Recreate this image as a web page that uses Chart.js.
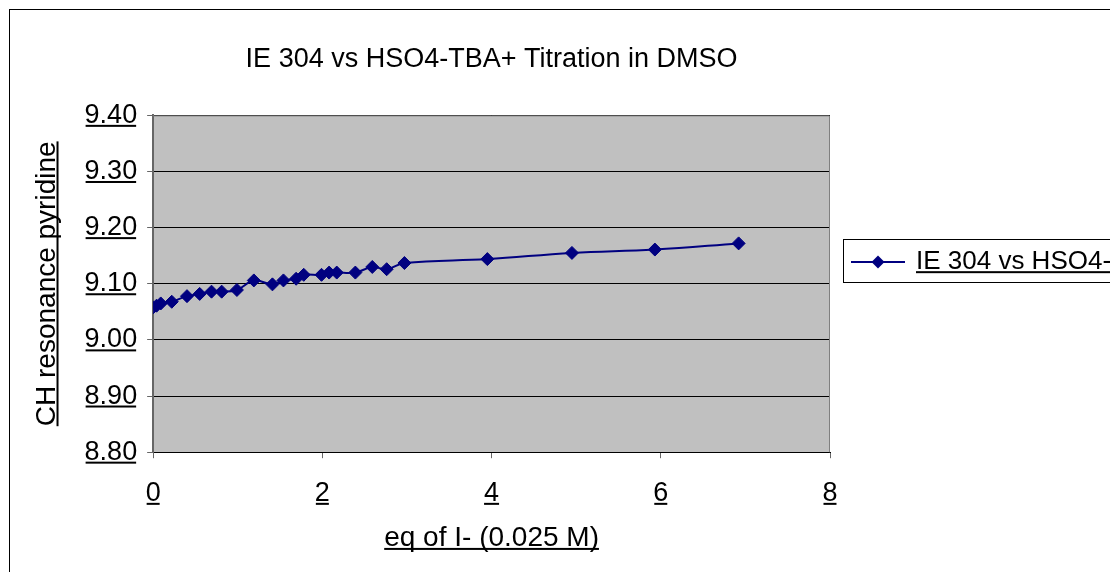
<!DOCTYPE html>
<html>
<head>
<meta charset="utf-8">
<script src="https://cdn.jsdelivr.net/npm/chart.js@4/dist/chart.umd.min.js"></script>
<style>
  html, body { margin: 0; padding: 0; background: #fff; overflow: hidden; width: 1110px; height: 572px; }
  #frame { position: absolute; left: 9px; top: 9px; border: 1px solid #000; width: 1120px; height: 580px; }
  canvas { display: block; }
</style>
</head>
<body>
<div id="frame"><canvas id="chart" width="1120" height="580"></canvas></div>
<script>
// Titration: chemical shift of the pyridine CH resonance vs equivalents added
const chartTitle = 'IE 304 vs HSO4-TBA+ Titration in DMSO';
const seriesName = 'IE 304 vs HSO4-TBA+';
const xAxisTitle = 'eq of I- (0.025 M)';
const yAxisTitle = 'CH resonance pyridine';

const equivalents = [0.00, 0.04, 0.09, 0.22, 0.40, 0.55, 0.69, 0.81, 0.99, 1.19,
                     1.41, 1.54, 1.69, 1.78, 1.99, 2.08, 2.17, 2.39, 2.59, 2.76,
                     2.97, 3.95, 4.95, 5.93, 6.92];
const shiftPpm    = [9.058, 9.061, 9.065, 9.068, 9.078, 9.082, 9.086, 9.086, 9.089, 9.106,
                     9.099, 9.106, 9.109, 9.116, 9.116, 9.120, 9.120, 9.120, 9.130, 9.126,
                     9.137, 9.144, 9.155, 9.161, 9.172];

const xTicks = [0, 2, 4, 6, 8];
const yTicks = [8.80, 8.90, 9.00, 9.10, 9.20, 9.30, 9.40];

const NAVY = '#000080';
const FONT = "'Liberation Sans', Arial, sans-serif";
Chart.defaults.font.family = FONT;
Chart.defaults.color = '#000';

// legend glyph: line with a diamond in the middle
const legendGlyph = document.createElement('canvas');
legendGlyph.width = 54; legendGlyph.height = 16;
(function () {
  const g = legendGlyph.getContext('2d');
  g.strokeStyle = NAVY; g.lineWidth = 2;
  g.beginPath(); g.moveTo(0, 8); g.lineTo(54, 8); g.stroke();
  g.fillStyle = NAVY;
  g.beginPath(); g.moveTo(27, 1.5); g.lineTo(33.5, 8); g.lineTo(27, 14.5); g.lineTo(20.5, 8); g.closePath(); g.fill();
})();

// grey plot area with a grey frame
const plotArea = {
  id: 'plotArea',
  beforeDraw(chart) {
    const { ctx, chartArea: a } = chart;
    ctx.save();
    ctx.fillStyle = '#C0C0C0';
    ctx.fillRect(a.left, a.top, a.right - a.left, a.bottom - a.top);
    ctx.restore();
  },
  beforeDatasetsDraw(chart) {
    const { ctx, chartArea: a } = chart;
    ctx.save();
    ctx.strokeStyle = '#808080';
    ctx.lineWidth = 1;
    ctx.beginPath();
    ctx.moveTo(a.left, a.top + 0.5);
    ctx.lineTo(a.right - 0.5, a.top + 0.5);
    ctx.lineTo(a.right - 0.5, a.bottom);
    ctx.stroke();
    ctx.restore();
  }
};

// underlines for tick labels, axis titles and the legend text; legend frame
function baselineOffset(ctx) {
  return ctx.measureText('0').actualBoundingBoxDescent;
}
const underlines = {
  id: 'underlines',
  afterDraw(chart) {
    const ctx = chart.ctx;
    ctx.save();
    ctx.fillStyle = '#000';
    for (const id of ['x', 'y']) {
      const scale = chart.scales[id];
      for (const item of scale.getLabelItems()) {
        const o = item.options;
        ctx.font = item.font.string;
        ctx.textAlign = o.textAlign;
        ctx.textBaseline = o.textBaseline;
        const m = ctx.measureText(String(item.label));
        const [tx, ty] = o.translation;
        const base = ty + item.textOffset + baselineOffset(ctx);
        const x1 = tx - m.actualBoundingBoxLeft;
        const x2 = tx + m.actualBoundingBoxRight;
        ctx.fillRect(x1, base + 2, x2 - x1, 2);
      }
      // axis title
      const t = scale.options.title;
      const f = Chart.helpers.toFont(t.font);
      const pad = Chart.helpers.toPadding(t.padding);
      ctx.font = f.string;
      ctx.textAlign = 'center';
      ctx.textBaseline = 'middle';
      const w = ctx.measureText(t.text).width;
      const d = baselineOffset(ctx);
      if (id === 'x') {
        const cy = scale.bottom - (f.lineHeight / 2 + pad.bottom);
        const cx = (scale.left + scale.right) / 2;
        ctx.fillRect(cx - w / 2, cy + d + 2, w, 2);
      } else {
        const cx = scale.left + f.lineHeight / 2 + pad.top;
        const cy = (scale.top + scale.bottom) / 2;
        ctx.save();
        ctx.translate(cx, cy);
        ctx.rotate(-Math.PI / 2);
        ctx.fillRect(-w / 2, d + 2, w, 2);
        ctx.restore();
      }
    }
    // legend text underline + frame
    const lg = chart.legend;
    if (lg && lg.legendHitBoxes && lg.legendHitBoxes.length) {
      const hit = lg.legendHitBoxes[0];
      const lo = lg.options.labels;
      const f = Chart.helpers.toFont(lo.font);
      const textX = hit.left + lo.pointStyleWidth + f.size / 2;
      const mid = hit.top + f.size / 2;
      ctx.font = f.string;
      ctx.textAlign = 'left';
      ctx.textBaseline = 'middle';
      const w = ctx.measureText(chart.data.datasets[0].label).width;
      ctx.fillRect(textX, mid + baselineOffset(ctx) + 2, w, 2);
      ctx.strokeStyle = '#000';
      ctx.lineWidth = 1;
      ctx.strokeRect(hit.left - 9.5, mid - 22.5, w + lo.pointStyleWidth + f.size / 2 + 20, 43);
    }
    ctx.restore();
  }
};

new Chart(document.getElementById('chart'), {
  type: 'line',
  data: {
    datasets: [{
      label: seriesName,
      data: equivalents.map((x, i) => ({ x, y: shiftPpm[i] })),
      borderColor: NAVY,
      backgroundColor: NAVY,
      borderWidth: 2,
      tension: 0.4,
      pointStyle: 'rectRot',
      pointRadius: 6.5,
      pointBorderWidth: 1,
      pointBackgroundColor: NAVY,
      pointBorderColor: NAVY
    }]
  },
  options: {
    responsive: false,
    animation: false,
    devicePixelRatio: 1,
    layout: { padding: { left: 10, right: 10, top: 0, bottom: 35 } },
    plugins: {
      title: {
        display: true,
        fullSize: false,
        text: chartTitle,
        color: '#000',
        font: { size: 27, weight: 'normal', family: FONT },
        padding: { top: 33, bottom: 40 }
      },
      legend: {
        display: true,
        position: 'right',
        align: 'start',
        maxWidth: 290,
        title: { display: true, text: '', font: { size: 12 }, padding: { top: 201.6, bottom: 0 } },
        labels: {
          usePointStyle: true,
          pointStyle: legendGlyph,
          pointStyleWidth: 50,
          padding: 23,
          color: '#000',
          font: { size: 26, family: FONT }
        }
      },
      tooltip: { enabled: false }
    },
    scales: {
      x: {
        type: 'linear',
        min: xTicks[0],
        max: xTicks[xTicks.length - 1],
        afterBuildTicks(scale) { scale.ticks = xTicks.map(v => ({ value: v })); },
        ticks: { padding: 19, color: '#000', font: { size: 27 }, callback: v => String(v) },
        grid: { drawOnChartArea: false, drawTicks: true, tickLength: 6, tickColor: '#666' },
        border: { color: '#000', width: 1 },
        title: { display: true, text: xAxisTitle, color: '#000', font: { size: 28 }, padding: { top: -7.2, bottom: 0 } }
      },
      y: {
        type: 'linear',
        min: yTicks[0],
        max: yTicks[yTicks.length - 1],
        afterBuildTicks(scale) { scale.ticks = yTicks.map(v => ({ value: v })); },
        ticks: { padding: 10, color: '#000', font: { size: 27 }, callback: v => Number(v).toFixed(2) },
        grid: { color: '#000', lineWidth: 1, drawTicks: true, tickLength: 6, tickColor: '#666' },
        border: { color: '#666', width: 2 },
        title: { display: true, text: yAxisTitle, color: '#000', font: { size: 28 }, padding: { top: 10, bottom: 11 } }
      }
    }
  },
  plugins: [plotArea, underlines]
});
</script>
</body>
</html>
